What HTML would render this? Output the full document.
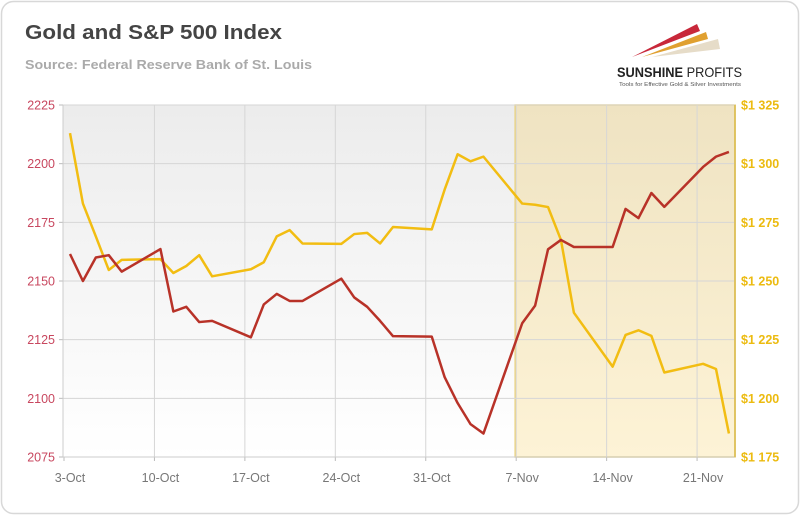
<!DOCTYPE html>
<html><head><meta charset="utf-8"><style>
html,body{margin:0;padding:0;background:#fff;}
svg{display:block;font-family:"Liberation Sans",sans-serif;}
</style></head><body>
<svg width="800" height="515" viewBox="0 0 800 515">
<defs>
<linearGradient id="bg" x1="0" y1="0" x2="0" y2="1"><stop offset="0" stop-color="#ececec"/><stop offset="1" stop-color="#ffffff"/></linearGradient>
<linearGradient id="hl" x1="0" y1="0" x2="0" y2="1"><stop offset="0" stop-color="#efe3c2"/><stop offset="1" stop-color="#fdf3d6"/></linearGradient>
</defs>
<rect x="1.5" y="1.5" width="797" height="512" rx="12" fill="#fff" stroke="#d8d8d8" stroke-width="1.5"/>
<text x="25" y="39" font-size="20" font-weight="bold" fill="#444" textLength="257" lengthAdjust="spacingAndGlyphs">Gold and S&amp;P 500 Index</text>
<text x="25" y="69" font-size="13" font-weight="bold" fill="#aaa" textLength="287" lengthAdjust="spacingAndGlyphs">Source: Federal Reserve Bank of St. Louis</text>
<g>
<polygon points="632,57 697,24 700,31" fill="#c8283a"/>
<polygon points="642,57 706,32 708,39" fill="#e0a030"/>
<polygon points="652,57 718,39 720,49" fill="#e6dcc8"/>
<text x="617" y="77" font-size="14" font-weight="bold" fill="#222" textLength="125" lengthAdjust="spacingAndGlyphs">SUNSHINE <tspan font-weight="normal">PROFITS</tspan></text>
<text x="619" y="86" font-size="5.5" fill="#555" textLength="122" lengthAdjust="spacingAndGlyphs">Tools for Effective Gold &amp; Silver Investments</text>
</g>
<rect x="63" y="105" width="672" height="352" fill="url(#bg)"/>
<g id="grid"></g>
<g id="marks"></g>
<g id="axes"></g>
</svg>
<script>
const days = [0,1,2,3,4,7,8,9,10,11,14,15,16,17,18,21,22,23,24,25,28,29,30,31,32,35,36,37,38,39,42,43,44,45,46,49,50,51];
const sp500 = [2161.5,2150,2160,2161,2154,2163.6,2137,2139,2132.5,2133,2126,2140,2144.5,2141.5,2141.5,2151,2143,2139,2133,2126.5,2126.3,2109,2098,2089,2085,2132,2139.5,2163.5,2167.5,2164.5,2164.5,2180.7,2176.8,2187.5,2181.6,2198.6,2203,2205];
const gold = [1313,1283,1269,1254.7,1259,1259.3,1253.4,1256.4,1261,1252,1255,1258,1269,1271.7,1266,1265.8,1270,1270.5,1266,1273,1272,1289,1304,1301,1303,1283,1282.5,1281.5,1267.5,1236.5,1213.5,1227,1229,1226.6,1211,1214.7,1212.5,1185];
const leftTicks = [2075,2100,2125,2150,2175,2200,2225];
const rightTicks = [1175,1200,1225,1250,1275,1300,1325];
const rightLabels = ["$1 175","$1 200","$1 225","$1 250","$1 275","$1 300","$1 325"];
const xTickDays = [0,7,14,21,28,35,42,49];
const xLabels = ["3-Oct","10-Oct","17-Oct","24-Oct","31-Oct","7-Nov","14-Nov","21-Nov"];
const highlightStartDay = 35;

const NS="http://www.w3.org/2000/svg";
const L=63,R=735,T=105,B=457;
const x=d=>70+12.92*d;
const yL=v=>B-(v-2075)/150*(B-T);
const yR=v=>B-(v-1175)/150*(B-T);
function mk(tag,attrs,parent){const e=document.createElementNS(NS,tag);for(const k in attrs)e.setAttribute(k,attrs[k]);parent.appendChild(e);return e;}
const grid=document.getElementById('grid'),marks=document.getElementById('marks'),axes=document.getElementById('axes');

const hx=x(highlightStartDay)-7;
let hr=mk('rect',{x:hx,y:T,width:R-hx,height:B-T,fill:'url(#hl)',stroke:'#ecd27a','stroke-width':1.5},grid);



leftTicks.forEach((v,i)=>{
  if(v>2075){let g=mk('line',{x1:L,x2:R,y1:yL(v),y2:yL(v),stroke:'#d6d6d6','stroke-width':1},grid);
  
  }
  let t=mk('text',{x:55,y:yL(v)+4.5,'text-anchor':'end','font-size':12.5,fill:'#c8475f'},axes);t.textContent=v;
  
  
  let tk=mk('line',{x1:L-4,x2:L,y1:yL(v),y2:yL(v),stroke:'#bbb'},axes);
  
  
});
rightTicks.forEach((v,i)=>{
  let t=mk('text',{x:741,y:yR(v)+4.5,'font-size':12.5,'font-weight':'bold',fill:'#ecbb10'},axes);t.textContent=rightLabels[i];
  
  
});
xTickDays.forEach((d,i)=>{
  const gx=x(d)-6;
  if(i>0){let g=mk('line',{x1:gx,x2:gx,y1:T,y2:B,stroke:'#d6d6d6'},grid);
  
  }
  let tk=mk('line',{x1:gx,x2:gx,y1:B,y2:B+4,stroke:'#bbb'},axes);
  
  
  let t=mk('text',{x:x(d),y:482,'text-anchor':'middle','font-size':12.5,fill:'#777'},axes);t.textContent=xLabels[i];
  
  
});
let la=mk('line',{x1:L,x2:L,y1:T,y2:B,stroke:'#ccc'},axes);


let ba=mk('line',{x1:L,x2:R,y1:B,y2:B,stroke:'#ccc'},axes);


let ra=mk('line',{x1:R,x2:R,y1:T,y2:B,stroke:'#d9b94a','stroke-width':1.5},axes);



let gp=mk('polyline',{points:days.map((d,i)=>x(d)+','+yR(gold[i])).join(' '),fill:'none',stroke:'#f2bd12','stroke-width':2.5,'stroke-linejoin':'round'},marks);


let sp=mk('polyline',{points:days.map((d,i)=>x(d)+','+yL(sp500[i])).join(' '),fill:'none',stroke:'#b83228','stroke-width':2.5,'stroke-linejoin':'round'},marks);


</script>
</body></html>
